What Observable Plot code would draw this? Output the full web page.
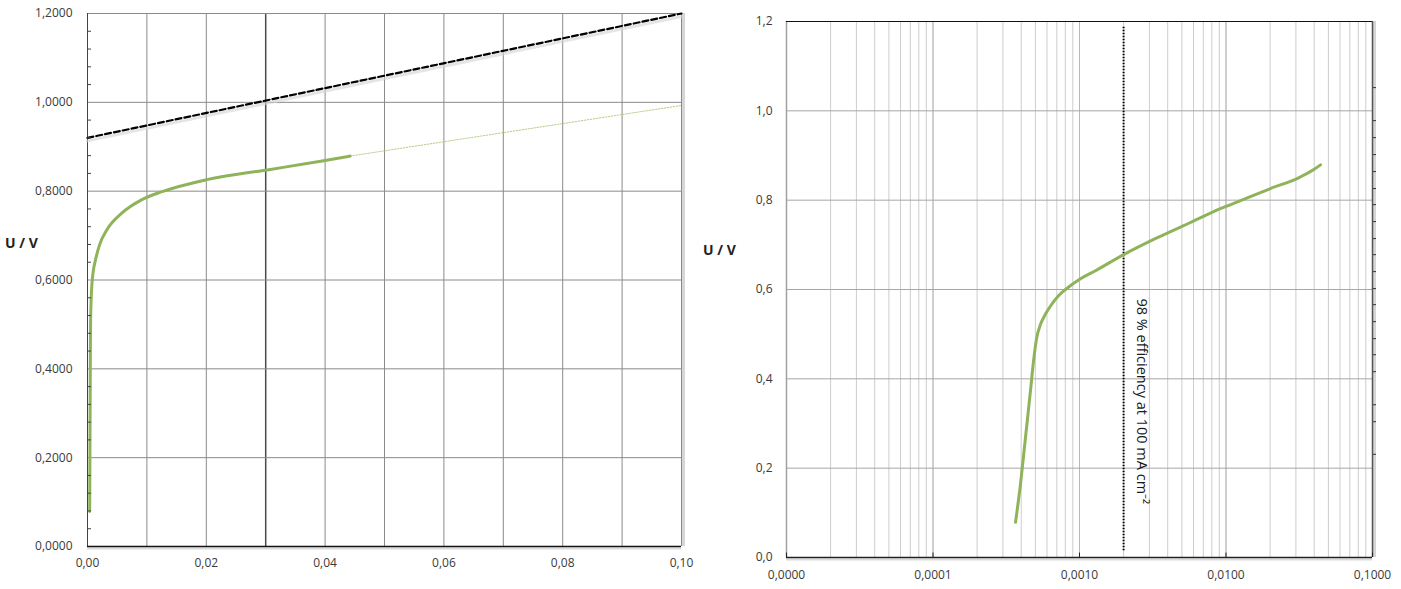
<!DOCTYPE html>
<html>
<head>
<meta charset="utf-8">
<script src="https://cdn.jsdelivr.net/npm/d3@7"></script>
<script src="https://cdn.jsdelivr.net/npm/@observablehq/plot@0.6"></script>
<style>
  html, body { margin: 0; padding: 0; background: #fff; }
  #wrap { position: relative; width: 1401px; height: 589px; font-family: "Open Sans", sans-serif; }
  #left { position: absolute; left: 0; top: 0; }
  #right { position: absolute; left: 700px; top: 0; }
  .ylab { position: absolute; font-family: "Open Sans", sans-serif; font-weight: bold; font-size: 14px; color: #222; white-space: nowrap; }
</style>
</head>
<body>
<div id="wrap">
  <div id="left"></div>
  <div id="right"></div>
  <div class="ylab" style="left:5px; top:233px;">U / V</div>
  <div class="ylab" style="left:703px; top:240px;">U / V</div>
</div>
<script>
// ---- data (current density / A cm^-2, cell voltage / V) ----
const current = [0.000366, 0.000396, 0.000428, 0.000463, 0.000486, 0.000509, 0.000542, 0.000586, 0.000634, 0.000719,
                 0.000802, 0.001016, 0.001285, 0.00200, 0.00340, 0.00572, 0.00917, 0.01256, 0.0201, 0.0308, 0.0395, 0.0442];
const voltage = [0.079, 0.166, 0.269, 0.374, 0.441, 0.490, 0.522, 0.545, 0.563, 0.586,
                 0.600, 0.624, 0.642, 0.678, 0.716, 0.750, 0.781, 0.799, 0.826, 0.849, 0.868, 0.879];
const extCurrent = [0.0442, 0.1];
const extVoltage = [0.879, 0.993];
const refCurrent = [0, 0.1];
const refVoltage = [0.92, 1.2];

// ---- ticks / grid ----
const leftXTicks = [0, 0.02, 0.04, 0.06, 0.08, 0.10];
const leftXGrid = [0.01, 0.02, 0.04, 0.05, 0.06, 0.07, 0.08, 0.09];
const leftXGridDark = [0.03];
const leftYTicks = [0, 0.2, 0.4, 0.6, 0.8, 1.0, 1.2];
const leftYGrid = [0.2, 0.4, 0.6, 0.8, 1.0];
const leftYMinor = [0.04, 0.08, 0.12, 0.16, 0.24, 0.28, 0.32, 0.36, 0.44, 0.48, 0.52, 0.56, 0.64, 0.68, 0.72, 0.76, 0.84, 0.88, 0.92, 0.96, 1.04, 1.08, 1.12, 1.16];
const rightXTicks = [1e-5, 1e-4, 1e-3, 1e-2, 1e-1];
const rightYTicks = [0, 0.2, 0.4, 0.6, 0.8, 1.0, 1.2];
const rightYGrid = [0.2, 0.4, 0.6, 0.8, 1.0];
const rightEdgeTicks = [0.231, 0.304, 0.342, 0.416, 0.454, 0.490, 0.528, 0.566, 0.602, 0.640, 0.678, 0.714, 0.752, 0.790, 0.826, 0.864, 0.902, 0.940, 0.978, 1.052];
const efficiencyCurrent = [0.002];
const efficiencyRange = [0.015, 1.19];
const annotation = ["98 % efficiency at 100 mA cm\u207B\u00B2"];
const annotationVoltage = [0.58];

const curve = current.map((c, i) => ({c, v: voltage[i]}));
const ext = extCurrent.map((c, i) => ({c, v: extVoltage[i]}));
const ref = refCurrent.map((c, i) => ({c, v: refVoltage[i]}));
const comma = (f) => (d) => d3.format(f)(d).replace(".", ",");

const green = "#8fb35a";
const style = {fontFamily: "'Open Sans', sans-serif", fontSize: "12px", color: "#3a3a3a", background: "transparent", overflow: "visible"};

// ---- left: linear ----
const left = Plot.plot({
  width: 700, height: 589,
  marginLeft: 87, marginRight: 19, marginTop: 13, marginBottom: 43,
  style,
  x: {domain: [0, 0.1], label: null},
  y: {domain: [0, 1.2], label: null},
  marks: [
    Plot.ruleX(leftXGrid, {stroke: "#8a8a8a", strokeWidth: 1}),
    Plot.ruleX(leftXGridDark, {stroke: "#4a4a4a", strokeWidth: 1.5}),
    Plot.ruleY(leftYGrid, {stroke: "#8a8a8a", strokeWidth: 1}),
    Plot.ruleY([1.2], {stroke: "#8a8a8a", strokeWidth: 1}),
    Plot.ruleX([0.1], {stroke: "#d6d6d6", strokeWidth: 3, dx: 2}),
    Plot.ruleX([0.1], {stroke: "#8a8a8a", strokeWidth: 1}),
    Plot.ruleX([0], {stroke: "#444", strokeWidth: 1}),
    Plot.ruleY([0], {stroke: "#dcdcdc", strokeWidth: 2, dy: 2}),
    Plot.ruleY([0], {stroke: "#111", strokeWidth: 1.5}),
    Plot.line(ref, {x: "c", y: "v", stroke: "#d4d4d4", strokeWidth: 3, dy: 3, strokeOpacity: 0.6}),
    Plot.line(ref, {x: "c", y: "v", stroke: "#000", strokeWidth: 2.2, strokeDasharray: "6,3"}),
    Plot.line(ext, {x: "c", y: "v", stroke: "#b5cf8a", strokeWidth: 1, strokeDasharray: "1.5,1.5"}),
    Plot.line(curve, {x: "c", y: "v", stroke: green, strokeWidth: 3, curve: "monotone-x"}),
    Plot.axisY(leftYMinor, {tickSize: 4, dx: 4, tickFormat: () => "", stroke: "#444", label: null}),
    Plot.axisX(leftXTicks, {tickSize: 0, tickPadding: 12, tickFormat: comma(".2f"), label: null}),
    Plot.axisY(leftYTicks, {tickSize: 0, tickPadding: 15, tickFormat: comma(".4f"), label: null})
  ]
});
document.getElementById("left").append(left);

// ---- right: logarithmic ----
const logGrid = d3.scaleLog().domain([1e-5, 0.1]).ticks();
const right = Plot.plot({
  width: 701, height: 589,
  marginLeft: 86, marginRight: 29, marginTop: 21, marginBottom: 32,
  style,
  x: {type: "log", domain: [1e-5, 0.1], label: null},
  y: {domain: [0, 1.2], label: null},
  marks: [
    Plot.ruleX(logGrid, {stroke: "#cdcdcd", strokeWidth: 1}),
    Plot.ruleX(rightXTicks, {stroke: "#b8b8b8", strokeWidth: 1}),
    Plot.ruleY(rightYGrid, {stroke: "#a6a6a6", strokeWidth: 1}),
    Plot.ruleX([1e-5], {stroke: "#a0a0a0", strokeWidth: 1.5}),
    Plot.ruleX([0.1], {stroke: "#d6d6d6", strokeWidth: 3, dx: 2}),
    Plot.ruleX([0.1], {stroke: "#555", strokeWidth: 1.5}),
    Plot.ruleY([1.2], {stroke: "#111", strokeWidth: 1.2}),
    Plot.ruleY([0], {stroke: "#dcdcdc", strokeWidth: 2, dy: 2}),
    Plot.ruleY([0], {stroke: "#222", strokeWidth: 1.5}),
    Plot.ruleX(rightXTicks, {y1: 0, y2: 0.01, stroke: "#222", strokeWidth: 1}),
    Plot.axisY(rightEdgeTicks, {anchor: "right", tickSize: 3, tickFormat: () => "", stroke: "#333", label: null}),
    Plot.ruleX(efficiencyCurrent, {y1: efficiencyRange[0], y2: efficiencyRange[1], stroke: "#000", strokeWidth: 2, strokeDasharray: "1.5,1.5"}),
    Plot.line(curve, {x: "c", y: "v", stroke: green, strokeWidth: 3, curve: "monotone-x"}),
    Plot.text(annotation, {x: () => efficiencyCurrent[0], y: () => annotationVoltage[0], text: d => d, rotate: 90, textAnchor: "start", dx: 18, fontSize: 14.5, fill: "#1a1a1a"}),
    Plot.axisX(rightXTicks, {tickSize: 0, tickPadding: 13, tickFormat: comma(".4f"), label: null}),
    Plot.axisY(rightYTicks, {tickSize: 0, tickPadding: 14, tickFormat: comma(".1f"), label: null})
  ]
});
document.getElementById("right").append(right);
</script>
</body>
</html>
